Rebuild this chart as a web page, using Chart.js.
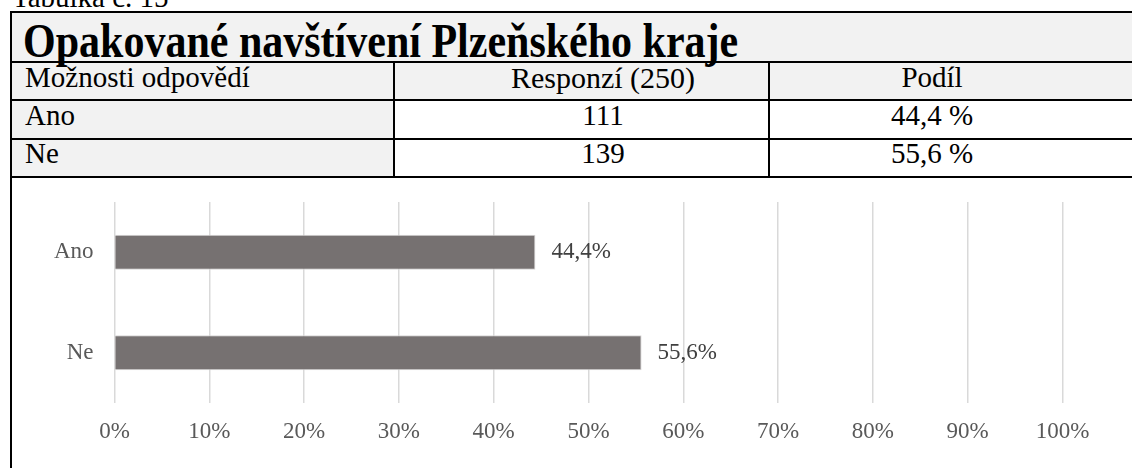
<!DOCTYPE html>
<html lang="cs">
<head>
<meta charset="utf-8">
<title>Opakované navštívení Plzeňského kraje</title>
<script src="https://cdn.jsdelivr.net/npm/chart.js@4.4.1/dist/chart.umd.min.js"></script>
<style>
  html, body { margin:0; padding:0; background:#ffffff; }
  body { width:1132px; height:468px; position:relative; overflow:hidden; font-family:"Liberation Serif","Times New Roman",serif; color:#000; }
  .bg { position:absolute; background:#f2f2f2; }
  .hl { position:absolute; background:#000; height:2px; }
  .vl { position:absolute; background:#000; width:2px; }
  .t { position:absolute; white-space:nowrap; line-height:normal; font-size:29px; }
  .c { text-align:center; width:400px; }
  #chartBox { position:absolute; left:13px; top:179px; width:1119px; height:289px; }
</style>
</head>
<body>
<div id="page"></div>
<div id="chartBox"><canvas id="chart"></canvas></div>
<script>
// ---- data ----
const captionText = "Tabulka č. 15";
const tableTitle = "Opakované navštívení Plzeňského kraje";
const columnHeaders = ["Možnosti odpovědí", "Responzí (250)", "Podíl"];
const categories = ["Ano", "Ne"];
const responses = [111, 139];
const shares = [44.4, 55.6];
const axisTicks = [0, 10, 20, 30, 40, 50, 60, 70, 80, 90, 100];

function pct(v, space) { return v.toFixed(1).replace('.', ',') + (space ? ' %' : '%'); }

// ---- table (HTML) ----
const page = document.getElementById('page');
function el(cls, style, text) {
  const d = document.createElement('div');
  d.className = cls;
  Object.assign(d.style, style);
  if (text !== undefined) d.textContent = text;
  page.appendChild(d);
  return d;
}
// backgrounds
el('bg', {left:'12px', top:'13px', width:'1120px', height:'48px'});
el('bg', {left:'12px', top:'63px', width:'1120px', height:'36px'});
el('bg', {left:'12px', top:'101px', width:'381px', height:'75px'});
// horizontal rules
[11, 61, 99, 138, 176].forEach(y => el('hl', {left:'10px', top:y+'px', width:'1122px'}));
// vertical rules
el('vl', {left:'10px', top:'11px', height:'457px'});
el('vl', {left:'393px', top:'61px', height:'117px'});
el('vl', {left:'768px', top:'61px', height:'117px'});

const asc = 0.891;
function baseTop(baseline, size) { return (baseline - asc * size) + 'px'; }
// caption (cut at the top)
el('t', {left:'12px', top:baseTop(7, 29)}, captionText);
// title (slightly taller glyphs, as in the reference)
el('t', {left:'23px', top:baseTop(56.5, 42), fontSize:'42px', fontWeight:'bold',
         transform:'scaleY(1.16)', transformOrigin:'0 ' + (asc*42) + 'px'}, tableTitle);
// header
const colCenters = [null, 603, 932];
el('t', {left:'25px', top:baseTop(87, 29)}, columnHeaders[0]);
el('t c', {left:(colCenters[1]-200)+'px', top:baseTop(87, 29), fontSize:'30px'}, columnHeaders[1]);
el('t c', {left:(colCenters[2]-200)+'px', top:baseTop(87, 29)}, columnHeaders[2]);
// rows
const rowBaselines = [125, 163];
categories.forEach((c, i) => {
  el('t', {left:'25px', top:baseTop(rowBaselines[i], 29)}, c);
  el('t c', {left:(colCenters[1]-200)+'px', top:baseTop(rowBaselines[i], 29)}, String(responses[i]));
  el('t c', {left:(colCenters[2]-200)+'px', top:baseTop(rowBaselines[i], 29)}, pct(shares[i], true));
});

// ---- chart ----
const valueLabels = {
  id: 'valueLabels',
  afterDatasetsDraw(chart) {
    const ctx = chart.ctx;
    const meta = chart.getDatasetMeta(0);
    ctx.save();
    ctx.font = '23px "Liberation Serif"';
    ctx.fillStyle = '#404040';
    ctx.textAlign = 'left';
    ctx.textBaseline = 'middle';
    meta.data.forEach((bar, i) => {
      ctx.fillText(pct(shares[i], false), bar.x + 16, bar.y);
    });
    ctx.restore();
  }
};

new Chart(document.getElementById('chart'), {
  type: 'bar',
  data: {
    labels: categories,
    datasets: [{
      data: shares,
      backgroundColor: '#767171',
      borderColor: '#d6d4d4',
      borderWidth: 1,
      categoryPercentage: 1,
      barPercentage: 0.35
    }]
  },
  options: {
    indexAxis: 'y',
    responsive: true,
    maintainAspectRatio: false,
    animation: false,
    layout: { padding: { left: 0, right: 69.5, top: 23, bottom: 0 } },
    plugins: { legend: { display: false }, tooltip: { enabled: false } },
    scales: {
      x: {
        min: 0, max: 100,
        afterBuildTicks(axis) { axis.ticks = axisTicks.map(v => ({ value: v })); },
        afterFit(axis) { axis.height = 65; },
        grid: { color: '#d9d9d9', lineWidth: 1.5, drawTicks: false },
        border: { display: false },
        ticks: {
          padding: 15,
          color: '#595959',
          font: { family: 'Liberation Serif', size: 23 },
          callback: v => v + '%'
        }
      },
      y: {
        afterFit(axis) { axis.width = 101.5; axis.paddingTop = 0; axis.paddingBottom = 0; },
        grid: { display: false, drawTicks: false },
        border: { display: false },
        ticks: {
          padding: 21,
          color: '#595959',
          font: { family: 'Liberation Serif', size: 23 }
        }
      }
    }
  },
  plugins: [valueLabels]
});
</script>
</body>
</html>
